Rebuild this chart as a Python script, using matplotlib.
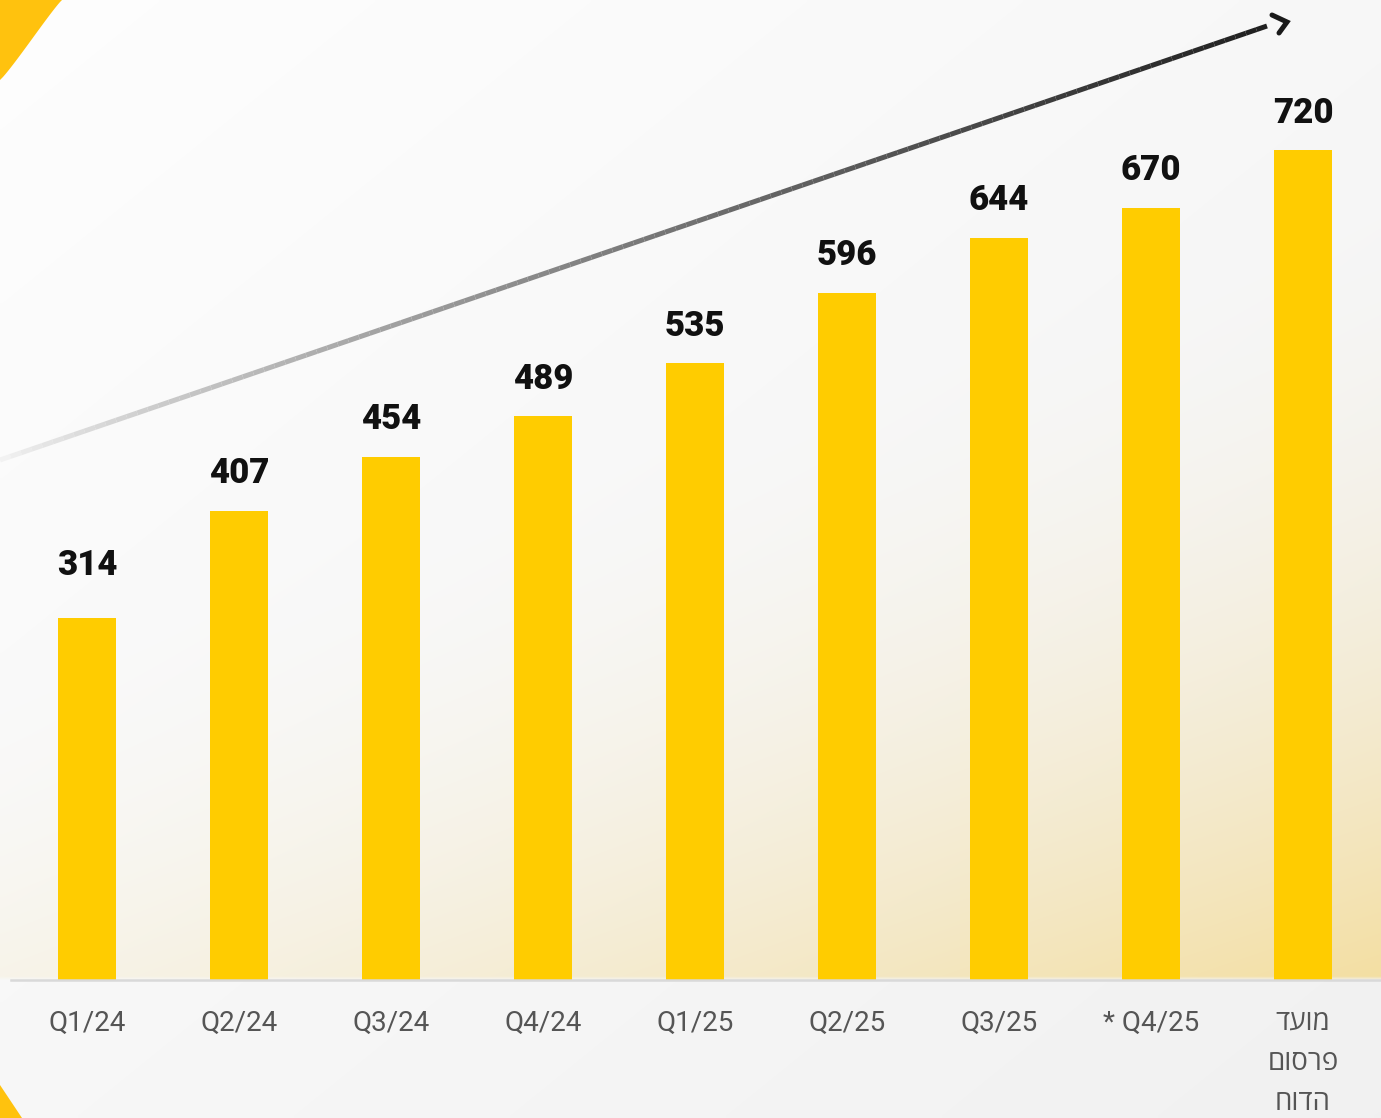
import numpy as np
import matplotlib
matplotlib.use('Agg')
import matplotlib.pyplot as plt
from matplotlib.collections import LineCollection
from matplotlib.patches import Polygon

# Data
quarters = ['Q1/24', 'Q2/24', 'Q3/24', 'Q4/24', 'Q1/25', 'Q2/25', 'Q3/25', '* Q4/25']
last_label = ['מועד', 'פרסום', 'הדוח']  # "report publication date", one word per line
values = [314, 407, 454, 489, 535, 596, 644, 670, 720]

bar_color = '#FFCC00'
corner_color = '#FFC20E'

W, H = 1381, 1118
fig = plt.figure(figsize=(W / 100, H / 100), dpi=100)
ax = fig.add_axes([0, 0, 1, 1])

# pixel layout -> data limits (bar pitch 152px, 1.1528 px per unit, baseline at y=980)
px_per_unit = 830 / 720
x0, pitch = 87, 152
base_y = 980
ax.set_xlim(-x0 / pitch, (W - x0) / pitch)
ax.set_ylim(-(H - base_y) / px_per_unit, base_y / px_per_unit)
ax.axis('off')

# background: soft gray gradient, yellow glow inside plot area towards the bottom
gh, gw = 280, 345
yy, xx = np.mgrid[0:gh, 0:gw]
px = xx / (gw - 1) * W
py = yy / (gh - 1) * H
gray = 0.995 - 0.05 * (0.5 * px / W + 0.5 * py / H)
img = np.dstack([gray, gray, gray])
s = (0.33 * px + py) / (0.33 * W + base_y)
glow = np.clip((s - 0.45) / 0.55, 0, 1) ** 2 * 0.95
glow[py > base_y] = 0
yellow = np.array([0.955, 0.87, 0.62])
img = img * (1 - glow[..., None]) + yellow * glow[..., None]
ax.imshow(img, extent=[0, 1, 0, 1], transform=ax.transAxes, aspect='auto',
          interpolation='bilinear', zorder=0)

# yellow corner shapes
t = np.linspace(0, 1, 30)
top_pts = [(0, H)] + [(62 * (1 - k) ** 0.9, H - 80 * k ** 1.1) for k in t]
top_pts = [(a / W, b / H) for a, b in top_pts]
ax.add_patch(Polygon(top_pts, closed=True, transform=ax.transAxes,
                     color=corner_color, zorder=1, lw=0))
bot_pts = [(0, 0), (22 / W, 0), (0, 33 / H)]
ax.add_patch(Polygon(bot_pts, closed=True, transform=ax.transAxes,
                     color=corner_color, zorder=1, lw=0))

# trend arrow with a light-to-dark gradient
n = 120
f = np.linspace(0, 1, n + 1)
lx = (1267 * f) / W
ly = 1 - (460 - 434 * f) / H
segs = np.stack([np.column_stack([lx[:-1], ly[:-1]]), np.column_stack([lx[1:], ly[1:]])], axis=1)
shade = 0.95 - 0.83 * f[:-1] ** 0.8
ax.add_collection(LineCollection(segs, colors=[(c, c, c) for c in shade], linewidths=3.6,
                                 transform=ax.transAxes, zorder=2, capstyle='butt'))
head = np.array([(1272, 15), (1287, 22), (1279, 33)], dtype=float)
ax.plot(head[:, 0] / W, 1 - head[:, 1] / H, color='#1a1a1a', lw=3.6,
        transform=ax.transAxes, zorder=2, solid_capstyle='round', solid_joinstyle='miter')

# bars
xs = np.arange(len(values))
ax.bar(xs, values, width=58 / pitch, color=bar_color, zorder=3)

# baseline
ax.plot([11 / W, 1], [1 - base_y / H] * 2, color='#d9d9d9', lw=1.8,
        transform=ax.transAxes, zorder=4)

# value labels
for i, val in enumerate(values):
    gap = 53 if i == 0 else 37
    ax.annotate(str(val), (i, val), xytext=(0, gap * 0.72), textcoords='offset points',
                ha='center', va='center', fontsize=25, fontweight=900,
                family=['Roboto', 'DejaVu Sans'], color='#111111', zorder=5)

# category labels
for i, lab in enumerate(quarters):
    ax.annotate(lab, (i, 0), xytext=(0, -43 * 0.72), textcoords='offset points',
                ha='center', va='center', fontsize=20, color='#555555',
                family=['Roboto', 'DejaVu Sans'], zorder=5)
for k, word in enumerate(last_label):
    # matplotlib has no bidi support, so Hebrew is written in visual order
    ax.annotate(word[::-1], (len(values) - 1, 0), xytext=(0, -(43 + 40 * k) * 0.72),
                textcoords='offset points', ha='center', va='center', fontsize=20,
                color='#555555', family=['Open Sans', 'DejaVu Sans'], zorder=5)

fig.savefig('out.png', dpi=100)
